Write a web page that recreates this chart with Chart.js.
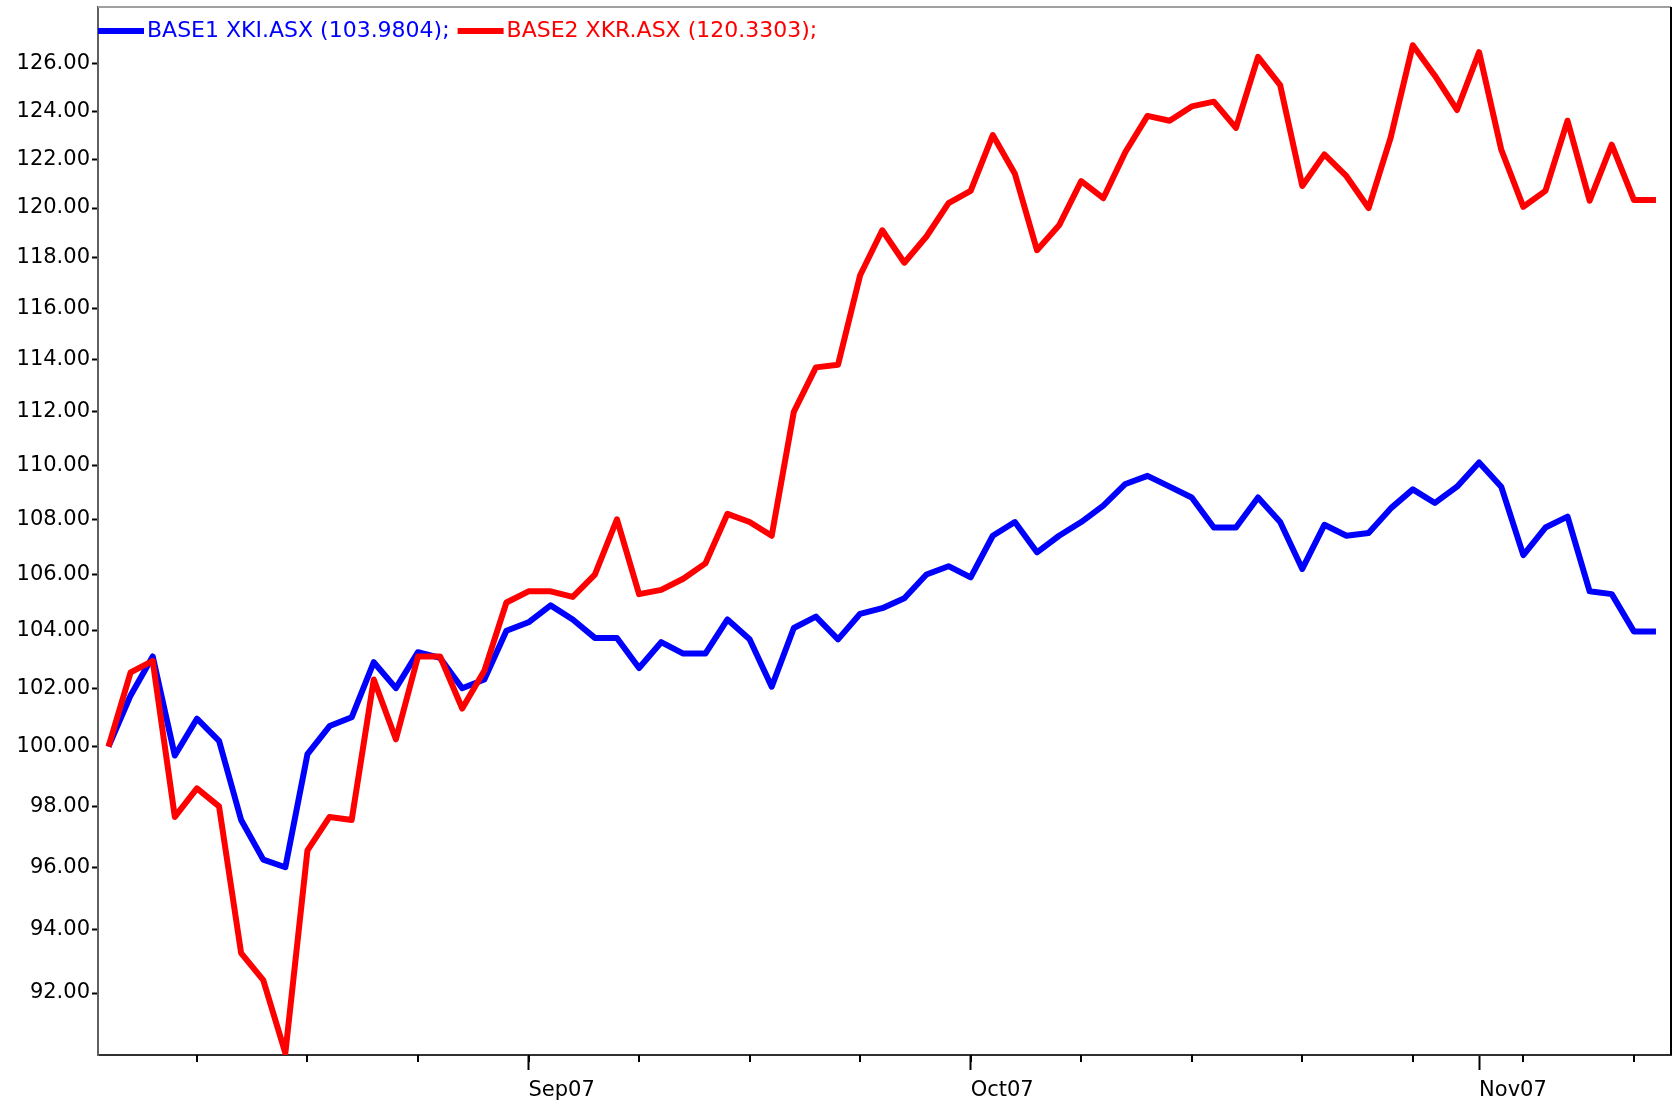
<!DOCTYPE html>
<html>
<head>
<meta charset="utf-8">
<script src="https://cdn.jsdelivr.net/npm/chart.js@4/dist/chart.umd.min.js"></script>
<style>
  html, body { margin: 0; padding: 0; background: #ffffff; }
  #wrap { width: 1676px; height: 1103px; }
</style>
</head>
<body>
<div id="wrap"><canvas id="c" width="1676" height="1103"></canvas></div>
<script>
// ---- data (trading days, Aug 7 2007 - Nov 13 2007) ----
const dates = [
  '2007-08-07','2007-08-08','2007-08-09','2007-08-10','2007-08-13','2007-08-14','2007-08-15','2007-08-16','2007-08-17',
  '2007-08-20','2007-08-21','2007-08-22','2007-08-23','2007-08-24','2007-08-27','2007-08-28','2007-08-29','2007-08-30','2007-08-31',
  '2007-09-03','2007-09-04','2007-09-05','2007-09-06','2007-09-07','2007-09-10','2007-09-11','2007-09-12','2007-09-13','2007-09-14',
  '2007-09-17','2007-09-18','2007-09-19','2007-09-20','2007-09-21','2007-09-24','2007-09-25','2007-09-26','2007-09-27','2007-09-28',
  '2007-10-01','2007-10-02','2007-10-03','2007-10-04','2007-10-05','2007-10-08','2007-10-09','2007-10-10','2007-10-11','2007-10-12',
  '2007-10-15','2007-10-16','2007-10-17','2007-10-18','2007-10-19','2007-10-22','2007-10-23','2007-10-24','2007-10-25','2007-10-26',
  '2007-10-29','2007-10-30','2007-10-31','2007-11-01','2007-11-02','2007-11-05','2007-11-06','2007-11-07','2007-11-08','2007-11-09',
  '2007-11-12','2007-11-13'
];

const blueValues = [
  100.0, 101.75, 103.1, 99.7, 100.95, 100.2, 97.55, 96.25, 96.0, 99.75,
  100.7, 101.0, 102.9, 102.0, 103.25, 103.05, 102.0, 102.3, 104.0, 104.3,
  104.9, 104.4, 103.75, 103.75, 102.7, 103.6, 103.2, 103.2, 104.4, 103.7,
  102.05, 104.1, 104.5, 103.7, 104.6, 104.8, 105.15, 106.0, 106.3, 105.9,
  107.4, 107.9, 106.8, 107.4, 107.9, 108.5, 109.3, 109.6, 109.2, 108.8,
  107.7, 107.7, 108.8, 107.9, 106.2, 107.8, 107.4, 107.5, 108.4, 109.1,
  108.6, 109.2, 110.1, 109.2, 106.7, 107.7, 108.1, 105.4, 105.3, 103.98,
  103.98
];

const redValues = [
  100.0, 102.55, 102.95, 97.65, 98.6, 98.0, 93.25, 92.4, 90.15, 96.55,
  97.65, 97.55, 102.3, 100.25, 103.1, 103.1, 101.3, 102.6, 105.0, 105.4,
  105.4, 105.2, 106.0, 108.0, 105.3, 105.45, 105.85, 106.4, 108.2, 107.9,
  107.4, 112.0, 113.7, 113.8, 117.3, 119.1, 117.8, 118.85, 120.2, 120.7,
  123.0, 121.4, 118.3, 119.3, 121.1, 120.4, 122.3, 123.8, 123.6, 124.2,
  124.4, 123.3, 126.3, 125.1, 120.9, 122.2, 121.3, 120.0, 122.9, 126.8,
  125.5, 124.05, 126.5, 122.4, 120.05, 120.7, 123.6, 120.3, 122.6, 120.33,
  120.33
];

const seriesNames = ['BASE1 XKI.ASX (103.9804);', 'BASE2 XKR.ASX (120.3303);'];
const seriesColors = ['#0000ff', '#ff0000'];
const yTickValues = [92, 94, 96, 98, 100, 102, 104, 106, 108, 110, 112, 114, 116, 118, 120, 122, 124, 126];
const monthNames = ['Jan','Feb','Mar','Apr','May','Jun','Jul','Aug','Sep','Oct','Nov','Dec'];

// ---- derived tick positions ----
const parsed = dates.map(d => { const [y, m, dd] = d.split('-').map(Number); return new Date(Date.UTC(y, m - 1, dd)); });
const monthStartIdx = [];
const mondayIdx = [];
parsed.forEach((d, i) => {
  if (i > 0 && d.getUTCMonth() !== parsed[i - 1].getUTCMonth()) monthStartIdx.push(i);
  if (d.getUTCDay() === 1) mondayIdx.push(i);
});
function monthLabel(i) {
  const d = parsed[i];
  return monthNames[d.getUTCMonth()] + String(d.getUTCFullYear()).slice(2);
}

const FONT = '"DejaVu Sans", "Liberation Sans", sans-serif';

const frame = {
  id: 'frame',
  afterDraw(chart) {
    const { ctx, chartArea: a } = chart;
    ctx.save();
    // top and right border of the plot box
    ctx.lineWidth = 2;
    ctx.strokeStyle = '#a0a0a0';
    ctx.beginPath(); ctx.moveTo(a.left, a.top); ctx.lineTo(a.right, a.top); ctx.stroke();
    ctx.strokeStyle = '#000000';
    ctx.beginPath(); ctx.moveTo(a.right, a.top); ctx.lineTo(a.right, a.bottom); ctx.stroke();
    // weekly minor ticks on the x axis
    const xs = chart.scales.x;
    ctx.strokeStyle = '#000000';
    mondayIdx.forEach(i => {
      const px = Math.round(xs.getPixelForValue(i));
      ctx.beginPath(); ctx.moveTo(px, xs.top); ctx.lineTo(px, xs.top + 7); ctx.stroke();
    });
    // legend inside the plot area
    ctx.font = '22px ' + FONT;
    ctx.textBaseline = 'middle';
    ctx.textAlign = 'left';
    let x = a.left;
    const y = a.top + 24;
    chart.data.datasets.forEach(ds => {
      ctx.strokeStyle = ds.borderColor;
      ctx.lineWidth = 6;
      ctx.beginPath(); ctx.moveTo(x, y); ctx.lineTo(x + 46, y); ctx.stroke();
      ctx.fillStyle = ds.borderColor;
      ctx.fillText(ds.label, x + 49, y);
      x += 49 + ctx.measureText(ds.label).width + 8;
    });
    ctx.restore();
  }
};

new Chart(document.getElementById('c'), {
  type: 'line',
  data: {
    datasets: [
      {
        label: seriesNames[0],
        data: blueValues.map((v, i) => ({ x: i, y: v })),
        borderColor: seriesColors[0],
        backgroundColor: seriesColors[0],
        borderWidth: 6,
        pointRadius: 0,
        tension: 0,
        borderJoinStyle: 'round',
        order: 2
      },
      {
        label: seriesNames[1],
        data: redValues.map((v, i) => ({ x: i, y: v })),
        borderColor: seriesColors[1],
        backgroundColor: seriesColors[1],
        borderWidth: 6,
        pointRadius: 0,
        tension: 0,
        borderJoinStyle: 'round',
        order: 1
      }
    ]
  },
  options: {
    responsive: false,
    devicePixelRatio: 1,
    animation: false,
    layout: { padding: { top: 7, right: 5, left: 0, bottom: 0 } },
    plugins: {
      legend: { display: false },
      tooltip: { enabled: false },
      title: { display: false }
    },
    scales: {
      x: {
        type: 'linear',
        min: -0.475,
        max: 70.68,
        afterBuildTicks(scale) { scale.ticks = monthStartIdx.map(v => ({ value: v })); },
        afterFit(scale) { scale.height = 48; scale.paddingLeft = 0; scale.paddingRight = 0; },
        ticks: {
          autoSkip: false,
          maxRotation: 0,
          minRotation: 0,
          align: 'start',
          padding: 8,
          color: '#000000',
          font: { family: FONT, size: 21 },
          callback: (value) => monthLabel(value)
        },
        grid: {
          drawOnChartArea: false,
          drawTicks: true,
          tickLength: 15,
          tickWidth: 2,
          tickColor: '#000000'
        },
        border: { display: true, color: '#303030', width: 2 }
      },
      y: {
        type: 'logarithmic',
        min: 90.09,
        max: 128.45,
        afterBuildTicks(scale) { scale.ticks = yTickValues.map(v => ({ value: v })); },
        afterFit(scale) { scale.width = 98; scale.paddingTop = 0; scale.paddingBottom = 0; },
        ticks: {
          padding: 2,
          color: '#000000',
          font: { family: FONT, size: 21 },
          callback: (value) => Number(value).toFixed(2)
        },
        grid: {
          drawOnChartArea: false,
          drawTicks: true,
          tickLength: 6,
          tickWidth: 2,
          tickColor: '#000000'
        },
        border: { display: true, color: '#606060', width: 2 }
      }
    }
  },
  plugins: [frame]
});
</script>
</body>
</html>
